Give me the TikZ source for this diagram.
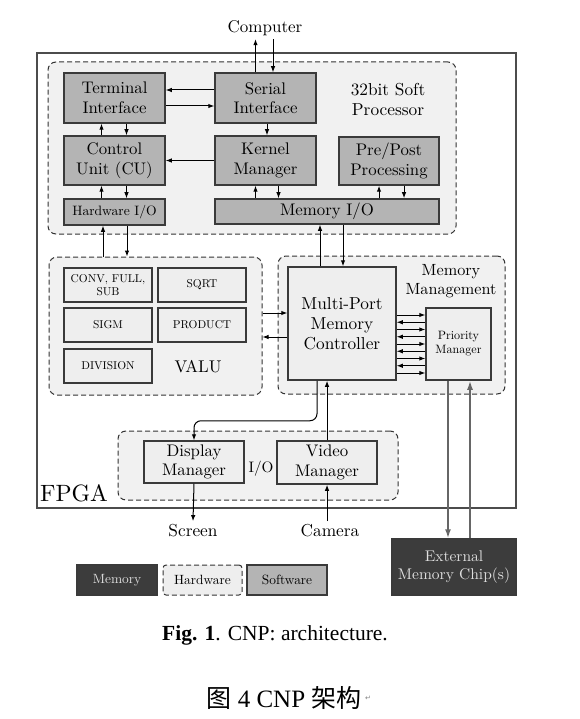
\documentclass[tikz,border=0pt]{standalone}
\usepackage{fontspec}
\setmainfont{lmroman10-regular.otf}[BoldFont=lmroman10-bold.otf, ItalicFont=lmroman10-italic.otf]
\newfontfamily\capfont{Liberation Serif}
\newfontfamily\cjkfont{Noto Sans CJK SC}
\newfontfamily\symfont{DejaVu Sans}
\usetikzlibrary{arrows.meta}
\definecolor{swgray}{HTML}{B4B4B4}
\definecolor{hwgray}{HTML}{EEEEEE}
\definecolor{bggray}{HTML}{F1F1F1}
\definecolor{memdark}{HTML}{3C3C3C}
\definecolor{edge}{HTML}{3A3A3A}
\newcommand{\fs}[2]{\fontsize{#1}{#2}\selectfont}
\tikzset{
  swbox/.style={draw=edge, line width=1.5pt, fill=swgray, align=center, inner sep=0pt, font=\fs{16.8}{19.5}},
  hwbox/.style={draw=edge, line width=1.5pt, fill=hwgray, align=center, inner sep=0pt, font=\fs{16.8}{19.5}},
  membox/.style={draw=edge, line width=1.5pt, fill=memdark, text=black!12, align=center, inner sep=0pt, font=\fs{15.5}{18.5}},
  region/.style={draw=black!80, dashed, dash pattern=on 5pt off 3pt, line width=1pt, rounded corners=8pt, fill=bggray, inner sep=0pt},
  conn/.style={line width=1pt, -{Latex[length=6pt,width=4.5pt]}},
  extconn/.style={line width=1.6pt, black!60, -{Latex[length=9pt,width=6pt]}},
}
\begin{document}
\begin{tikzpicture}[x=1pt,y=-1pt]
  \useasboundingbox[fill=white] (0,0) rectangle (580,719);
  % FPGA frame and dashed regions
  \draw[black!70, line width=1.4pt] (37,53) rectangle (516,508);
  \node[region, minimum width=408pt, minimum height=172pt] (proc) at (252,148) {};
  \node[region, minimum width=213pt, minimum height=138pt] (valu) at (155.5,326) {};
  \node[region, minimum width=227pt, minimum height=138pt] (mman) at (391.5,325) {};
  \node[region, minimum width=280pt, minimum height=69pt] (io) at (258,465.5) {};
  \node[font=\fs{23.6}{26}] (fpga) at (74,493) {FPGA};
  \node[font=\fs{17.3}{20}, align=center] (proclbl) at (388,99) {32bit Soft\\Processor};
  \node[font=\fs{16.2}{19}, align=center] (mmanlbl) at (451,281) {Memory\\Management};
  \node[font=\fs{17}{20}] (valulbl) at (198,367) {VALU};
  \node[font=\fs{15.2}{18}] (iolbl) at (261,469) {I/O};

  % soft processor
  \node[swbox, minimum width=101pt, minimum height=50pt] (term) at (114.5,98) {Terminal\\Interface};
  \node[swbox, minimum width=101pt, minimum height=50pt] (serial) at (265.5,98) {Serial\\Interface};
  \node[swbox, minimum width=101pt, minimum height=49pt] (cu) at (114.5,160.5) {Control\\Unit (CU)};
  \node[swbox, minimum width=101pt, minimum height=49pt] (kernel) at (265.5,160.5) {Kernel\\Manager};
  \node[swbox, minimum width=100pt, minimum height=48pt] (prepost) at (389,161) {Pre/Post\\Processing};
  \node[swbox, minimum width=101pt, minimum height=26pt, font=\fs{13.6}{15}] (hwio) at (114.5,212) {Hardware I/O};
  \node[swbox, minimum width=224pt, minimum height=25pt] (memio) at (327,211.5) {Memory I/O};

  % VALU
  \node[hwbox, minimum width=88pt, minimum height=34pt, font=\fs{11.4}{13}] (conv) at (108,285) {CONV, FULL,\\SUB};
  \node[hwbox, minimum width=88pt, minimum height=34pt, font=\fs{11.4}{13}] (sqrt) at (202,285) {SQRT};
  \node[hwbox, minimum width=88pt, minimum height=34pt, font=\fs{11.4}{13}] (sigm) at (108,325) {SIGM};
  \node[hwbox, minimum width=88pt, minimum height=34pt, font=\fs{11.4}{13}] (product) at (202,325) {PRODUCT};
  \node[hwbox, minimum width=88pt, minimum height=34pt, font=\fs{11.4}{13}] (division) at (108,366) {DIVISION};

  % memory management
  \node[hwbox, minimum width=108pt, minimum height=113pt, font=\fs{17.3}{20}] (mpmc) at (342,323.5) {Multi-Port\\Memory\\Controller};
  \node[hwbox, minimum width=65pt, minimum height=72pt, font=\fs{12.1}{14}] (prio) at (458.5,344) {Priority\\Manager};

  % I/O
  \node[hwbox, minimum width=100pt, minimum height=42pt] (disp) at (194,462) {Display\\Manager};
  \node[hwbox, minimum width=100pt, minimum height=43pt] (video) at (327,462.5) {Video\\Manager};

  % outside
  \node[font=\fs{17}{20}] (computer) at (265,28) {Computer};
  \node[font=\fs{17.3}{20}] (screen) at (193,531) {Screen};
  \node[font=\fs{17.3}{20}] (camera) at (330,531) {Camera};
  \node[membox, minimum width=124pt, minimum height=56pt] (extmem) at (454,567) {External\\Memory Chip(s)};

  % legend
  \node[membox, minimum width=80pt, minimum height=30pt, font=\fs{13.4}{15}] (lgmem) at (117,580) {Memory};
  \node[region, rounded corners=3pt, fill=hwgray, minimum width=79pt, minimum height=30pt, font=\fs{13.4}{15}] (lghw) at (202.5,580) {Hardware};
  \node[swbox, minimum width=80pt, minimum height=30pt, font=\fs{13.4}{15}] (lgsw) at (287,580) {Software};

  % connectors
  \draw[conn] ([xshift=-10pt]serial.north) -- ([xshift=-10pt]serial.north |- computer.south);
  \draw[conn] ([xshift=7.5pt]serial.north |- computer.south) -- ([xshift=7.5pt]serial.north);
  \draw[conn] ([yshift=8pt]serial.west) -- ([yshift=8pt]term.east);
  \draw[conn] ([yshift=-8pt]term.east) -- ([yshift=-8pt]serial.west);
  \draw[conn] ([xshift=-13pt]cu.north) -- ([xshift=-13pt]term.south);
  \draw[conn] ([xshift=12pt]term.south) -- ([xshift=12pt]cu.north);
  \draw[conn] ([xshift=-13pt]hwio.north) -- ([xshift=-13pt]cu.south);
  \draw[conn] ([xshift=12pt]cu.south) -- ([xshift=12pt]hwio.north);
  \draw[conn] ([xshift=1.5pt]serial.south) -- ([xshift=1.5pt]kernel.north);
  \draw[conn] (kernel.west) -- (cu.east);
  \draw[conn] ([xshift=-10pt]kernel.south |- memio.north) -- ([xshift=-10pt]kernel.south);
  \draw[conn] ([xshift=13pt]kernel.south) -- ([xshift=13pt]kernel.south |- memio.north);
  \draw[conn] ([xshift=-10pt]prepost.south |- memio.north) -- ([xshift=-10pt]prepost.south);
  \draw[conn] ([xshift=15pt]prepost.south) -- ([xshift=15pt]prepost.south |- memio.north);
  \draw[conn] ([xshift=-11.5pt]hwio.south |- valu.north) -- ([xshift=-11.5pt]hwio.south);
  \draw[conn] ([xshift=12.5pt]hwio.south) -- ([xshift=12.5pt]hwio.south |- valu.north);
  \draw[conn] ([xshift=-22pt]mpmc.north) -- ([xshift=-22pt]mpmc.north |- memio.south);
  \draw[conn] ([xshift=1pt]mpmc.north |- memio.south) -- ([xshift=1pt]mpmc.north);
  \draw[conn] ([yshift=10.5pt]mpmc.west -| valu.east) -- ([yshift=10.5pt]mpmc.west);
  \draw[conn] ([yshift=-13.5pt]mpmc.west) -- ([yshift=-13.5pt]mpmc.west -| valu.east);
  \foreach \dy/\dir in {29/->,21.75/<-,14.5/->,7.25/<-,0/->,-7.25/<-,-14.5/->,-21.75/<-,-29/->}
    \draw[line width=1pt, \dir, >={Latex[length=6pt,width=4.5pt]}]
      ([yshift=\dy pt]prio.west -| mpmc.east) -- ([yshift=\dy pt]prio.west);
  \draw[conn, rounded corners=7pt] ([xshift=-25pt]mpmc.south) -- ++(0,40) -| (disp.north);
  \draw[conn] (video.north) -- (video.north |- mpmc.south);
  \draw[conn] (disp.south) -- (screen.north);
  \draw[conn] (camera.north -| video.south) -- (video.south);
  \draw[extconn] ([xshift=-10.5pt]prio.south) -- ([xshift=-10.5pt]prio.south |- extmem.north);
  \draw[extconn] ([xshift=11.5pt]prio.south |- extmem.north) -- ([xshift=11.5pt]prio.south);

  % captions
  \node[font=\capfont\fs{21.5}{23}] (cap) at (275,635) {\textbf{Fig. 1}. CNP: architecture.};
  \node[font=\capfont\fs{25}{27}] (capcn) at (284,698) {{\cjkfont 图} 4 CNP {\cjkfont 架构}};
  \node[font=\symfont\fs{7}{8}, text=black!50, anchor=west, inner sep=0pt] (ret) at (capcn.east) {↵};
\end{tikzpicture}
\end{document}
